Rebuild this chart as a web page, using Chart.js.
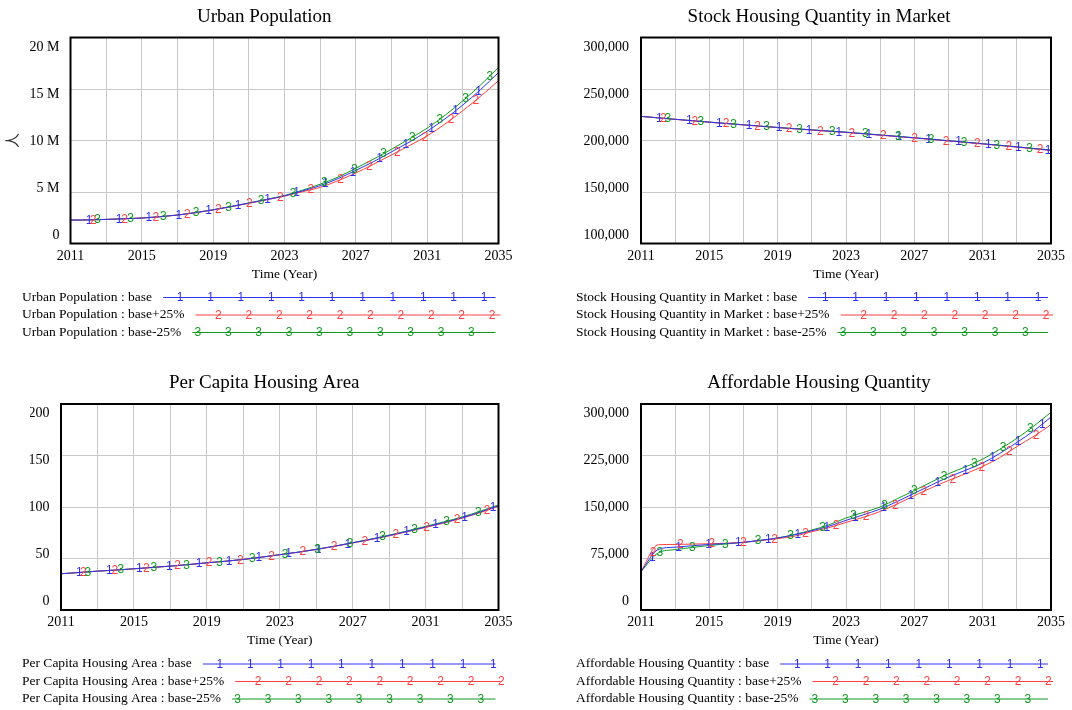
<!DOCTYPE html>
<html>
<head>
<meta charset="utf-8">
<title>Scenario comparison</title>
<script src="https://cdn.jsdelivr.net/npm/chart.js@4.4.0/dist/chart.umd.min.js"></script>
<style>
  html, body { margin: 0; padding: 0; background: #fff; }
  #page { position: relative; width: 1072px; height: 710px; overflow: hidden; }
  canvas { position: absolute; }
</style>
</head>
<body>
<div id="page">
  <canvas id="urbanChart" width="536" height="355" style="left:0;top:0"></canvas>
  <canvas id="stockChart" width="536" height="355" style="left:536px;top:0"></canvas>
  <canvas id="areaChart" width="536" height="355" style="left:0;top:355px"></canvas>
  <canvas id="affordChart" width="536" height="355" style="left:536px;top:355px"></canvas>
</div>
<script>
// ---- data ----
const years = [2011, 2012, 2013, 2014, 2015, 2016, 2017, 2018, 2019, 2020, 2021, 2022, 2023,
  2024, 2025, 2026, 2027, 2028, 2029, 2030, 2031, 2032, 2033, 2034, 2035];
const gridYears = [2011, 2013, 2015, 2017, 2019, 2021, 2023, 2025, 2027, 2029, 2031, 2033, 2035];
const xTickLabels = ["2011", "2015", "2019", "2023", "2027", "2031", "2035"];
const seriesNames = ["base", "base+25%", "base-25%"];

// Urban Population (million people)
const urbanBase = [2.27, 2.29, 2.34, 2.40, 2.47, 2.60, 2.76, 2.99, 3.27, 3.58, 3.92, 4.26, 4.63,
  5.10, 5.62, 6.30, 7.10, 7.95, 8.90, 9.85, 10.90, 12.10, 13.45, 14.95, 16.60];
const urbanPlus = [2.27, 2.29, 2.34, 2.40, 2.47, 2.60, 2.76, 2.98, 3.26, 3.57, 3.90, 4.24, 4.60,
  5.02, 5.45, 6.10, 6.85, 7.70, 8.60, 9.50, 10.45, 11.60, 12.90, 14.30, 15.80];
const urbanMinus = [2.27, 2.29, 2.34, 2.40, 2.47, 2.60, 2.77, 3.00, 3.28, 3.60, 3.94, 4.29, 4.66,
  5.17, 5.76, 6.45, 7.30, 8.20, 9.15, 10.15, 11.20, 12.45, 13.85, 15.40, 17.10];
const urbanTicks = [0, 5, 10, 15, 20];

// Stock Housing Quantity in Market
const stockBase = [223400, 222000, 220600, 219200, 217800, 216500, 215200, 213900, 212600, 211400,
  210300, 209100, 208000, 206700, 205300, 204000, 202600, 201200, 199700, 198300, 196800, 195300,
  193800, 192200, 190600];
const stockPlus = [223400, 222000, 220500, 219100, 217700, 216400, 215100, 213800, 212500, 211300,
  210100, 208900, 207800, 206500, 205100, 203800, 202400, 201000, 199500, 198100, 196600, 195100,
  193500, 191900, 190200];
const stockMinus = [223400, 222000, 220600, 219300, 217900, 216600, 215300, 214000, 212700, 211500,
  210400, 209200, 208100, 206800, 205400, 204100, 202700, 201300, 199800, 198400, 196900, 195400,
  193900, 192300, 190800];
const stockTicks = [100000, 150000, 200000, 250000, 300000];

// Per Capita Housing Area
const areaBase = [35.2, 36.4, 37.7, 38.8, 40.0, 41.3, 42.6, 44.1, 45.8, 47.3, 49.1, 51.3, 53.7,
  56.1, 58.8, 61.9, 65.2, 68.6, 72.3, 76.3, 80.6, 84.9, 89.6, 95.1, 101.3];
const areaPlus = [35.2, 36.4, 37.7, 38.8, 40.0, 41.3, 42.6, 44.1, 45.8, 47.3, 49.1, 51.3, 53.7,
  56.0, 58.7, 61.8, 65.0, 68.4, 72.0, 76.0, 80.2, 84.4, 89.1, 94.5, 100.6];
const areaMinus = [35.2, 36.4, 37.7, 38.8, 40.0, 41.3, 42.6, 44.1, 45.8, 47.3, 49.1, 51.3, 53.8,
  56.2, 58.9, 62.0, 65.4, 68.9, 72.7, 76.8, 81.2, 85.6, 90.3, 95.9, 102.0];
const areaTicks = [0, 50, 100, 150, 200];

// Affordable Housing Quantity
const affordBase = [56000, 88000, 91500, 93500, 95500, 96800, 98600, 101500, 104800, 109500,
  115500, 122000, 130500, 138500, 147000, 158000, 170000, 182000, 193500, 203500, 214000, 228000,
  244000, 261000, 281000];
const affordPlus = [56000, 95000, 95500, 96000, 96500, 97200, 98600, 101000, 104000, 107500,
  114000, 120000, 127500, 135000, 143500, 154500, 166500, 178000, 188700, 198500, 209000, 222000,
  238000, 253000, 270000];
const affordMinus = [56000, 83000, 88000, 91000, 94000, 96200, 98500, 101500, 105000, 110000,
  116500, 124000, 134000, 142000, 150000, 162000, 174000, 186500, 198400, 208500, 219700, 234000,
  250000, 268000, 288000];
const affordTicks = [0, 75000, 150000, 225000, 300000];

// ---- styling ----
const SERIF = "'Liberation Serif', 'Times New Roman', serif";
const CJK = "'Noto Sans CJK SC', 'Liberation Serif', sans-serif";
const MARK_FONT = "12px 'Liberation Sans', Arial, sans-serif";
const colors = ["#3030f0", "#ff4040", "#109a20"];
const gridColor = "#c8c8c8";
const markerGaps = [30, 31.5, 33];
const markerStarts = [18.5, 22.5, 27];
const legendRows = [53.5, 71, 88.5];
const legendStarts = [17, 23, 5.5];
const legendGap = 30.4;

// number digits along each plotted line (Vensim style)
const markerPlugin = {
  id: "lineMarkers",
  afterDatasetsDraw(chart) {
    const { ctx, chartArea: a } = chart;
    ctx.save();
    ctx.beginPath();
    ctx.rect(a.left, a.top, a.right - a.left, a.bottom - a.top);
    ctx.clip();
    ctx.font = MARK_FONT;
    ctx.textAlign = "center";
    ctx.textBaseline = "middle";
    chart.data.datasets.forEach((ds, i) => {
      const pts = chart.getDatasetMeta(i).data;
      ctx.fillStyle = ds.borderColor;
      let next = markerStarts[i], run = 0;
      for (let k = 1; k < pts.length; k++) {
        const x0 = pts[k - 1].x, y0 = pts[k - 1].y;
        const dx = pts[k].x - x0, dy = pts[k].y - y0;
        const seg = Math.hypot(dx, dy);
        while (next <= run + seg) {
          const t = (next - run) / seg;
          ctx.fillText(String(i + 1), x0 + t * dx, y0 + t * dy + 0.5);
          next += markerGaps[i];
        }
        run += seg;
      }
    });
    ctx.restore();
  }
};

// thick black box round the plot
const framePlugin = {
  id: "frame",
  afterDatasetsDraw(chart) {
    const { ctx, chartArea: a } = chart;
    ctx.save();
    ctx.strokeStyle = "#000";
    ctx.lineWidth = 2;
    ctx.strokeRect(a.left, a.top, a.right - a.left, a.bottom - a.top);
    ctx.restore();
  }
};

// legend rows under the x axis
const legendPlugin = {
  id: "vensimLegend",
  afterDraw(chart, args, opts) {
    const { ctx, chartArea: a } = chart;
    ctx.save();
    chart.data.datasets.forEach((ds, i) => {
      const y = a.bottom + legendRows[i];
      ctx.font = "13.5px " + SERIF;
      ctx.fillStyle = "#000";
      ctx.textAlign = "left";
      ctx.textBaseline = "middle";
      ctx.fillText(ds.label, opts.left, y);
      const x0 = opts.left + ctx.measureText(ds.label).width + 11;
      const x1 = i === 1 ? a.right + 2 : a.right - 3;
      ctx.strokeStyle = ds.borderColor;
      ctx.lineWidth = 1;
      ctx.beginPath();
      ctx.moveTo(x0, y + 0.5);
      ctx.lineTo(x1, y + 0.5);
      ctx.stroke();
      ctx.font = MARK_FONT;
      ctx.textAlign = "center";
      ctx.fillStyle = ds.borderColor;
      for (let x = x0 + legendStarts[i]; x <= x1 + 1; x += legendGap) {
        ctx.fillText(String(i + 1), x, y + 1);
      }
    });
    ctx.restore();
  }
};

function makeChart(p) {
  const first = p.yTicks[0], last = p.yTicks[p.yTicks.length - 1];
  const span = last - first;
  new Chart(document.getElementById(p.id), {
    type: "line",
    data: {
      datasets: p.series.map((vals, i) => ({
        label: `${p.title} : ${seriesNames[i]}`,
        data: years.map((yr, k) => ({ x: yr, y: vals[k] })),
        borderColor: colors[i],
        borderWidth: 1,
        pointRadius: 0,
        cubicInterpolationMode: "monotone",
        fill: false,
      })),
    },
    options: {
      responsive: false,
      animation: false,
      devicePixelRatio: 1,
      events: [],
      layout: { padding: { left: p.padL, right: p.padR, top: 0, bottom: p.padB } },
      plugins: {
        legend: { display: false },
        tooltip: { enabled: false },
        title: {
          display: true,
          text: p.title,
          color: "#000",
          font: { family: SERIF, size: 19, weight: "normal", lineHeight: 1.2 },
          padding: { top: p.titleTop, bottom: p.titleBottom },
        },
        vensimLegend: { left: p.legendLeft },
      },
      scales: {
        x: {
          type: "linear",
          min: 2011,
          max: 2035,
          afterBuildTicks: (s) => { s.ticks = gridYears.map((v) => ({ value: v })); },
          afterFit: (s) => { s.height = 42; },
          grid: { color: gridColor, drawTicks: false },
          border: { display: false },
          ticks: {
            padding: 4,
            color: "#000",
            autoSkip: false,
            maxRotation: 0,
            font: { family: SERIF, size: 14 },
            callback: (v) => (xTickLabels.includes(String(v)) ? String(v) : ""),
          },
          title: {
            display: true,
            text: "Time (Year)",
            color: "#000",
            font: { family: SERIF, size: 13.5, lineHeight: 1.2 },
            padding: { top: 0, bottom: 3.4 },
          },
        },
        y: {
          min: first,
          max: last,
          afterBuildTicks: (s) => { s.ticks = p.yTicks.map((v) => ({ value: v })); },
          afterFit: (s) => { s.width = 0; },
          grid: { color: gridColor, drawTicks: false },
          border: { display: false },
          ticks: { display: false },
        },
        yLabels: {
          position: "left",
          min: first - span * 8.5 / 188,
          max: last + span * 9.5 / 188,
          afterBuildTicks: (s) => { s.ticks = p.yTicks.map((v) => ({ value: v })); },
          afterFit: (s) => { s.width = p.axisW; },
          grid: { display: false, drawTicks: false },
          border: { display: false },
          ticks: {
            padding: p.tickPad,
            color: "#000",
            font: { family: SERIF, size: 14 },
            callback: p.yFormat,
          },
          title: {
            display: !!p.yTitle,
            text: p.yTitle || "",
            color: "#333",
            font: { family: CJK, size: 15, lineHeight: 1.2 },
            padding: { top: -27, bottom: 0 },
          },
        },
        // empty spacer on the right so the title centres like the original
        ySpacer: {
          position: "right",
          display: p.rightW > 0,
          min: 0,
          max: 1,
          afterFit: (s) => { s.width = p.rightW; },
          grid: { display: false, drawTicks: false },
          border: { display: false },
          ticks: { display: false },
        },
      },
    },
    plugins: [markerPlugin, framePlugin, legendPlugin],
  });
}

const withCommas = (v) => v.toLocaleString("en-US");

makeChart({
  id: "urbanChart", title: "Urban Population",
  series: [urbanBase, urbanPlus, urbanMinus], yTicks: urbanTicks,
  yFormat: (v) => (v === 0 ? "0" : v + " M"), yTitle: "人",
  padL: 30, padR: 37.5, padB: 69.5, axisW: 40.5, tickPad: 11, rightW: 0,
  titleTop: 5.6, titleBottom: 9.1, legendLeft: 22,
});
makeChart({
  id: "stockChart", title: "Stock Housing Quantity in Market",
  series: [stockBase, stockPlus, stockMinus], yTicks: stockTicks,
  yFormat: withCommas,
  padL: 40, padR: 10, padB: 69.5, axisW: 65, tickPad: 12, rightW: 11,
  titleTop: 5.6, titleBottom: 9.1, legendLeft: 40,
});
makeChart({
  id: "areaChart", title: "Per Capita Housing Area",
  series: [areaBase, areaPlus, areaMinus], yTicks: areaTicks,
  yFormat: (v) => String(v),
  padL: 30, padR: 37.5, padB: 58, axisW: 31, tickPad: 11.5, rightW: 0,
  titleTop: 16.9, titleBottom: 9.3, legendLeft: 22,
});
makeChart({
  id: "affordChart", title: "Affordable Housing Quantity",
  series: [affordBase, affordPlus, affordMinus], yTicks: affordTicks,
  yFormat: withCommas,
  padL: 40, padR: 10, padB: 58, axisW: 65, tickPad: 12, rightW: 11,
  titleTop: 16.9, titleBottom: 9.3, legendLeft: 40,
});
</script>
</body>
</html>
